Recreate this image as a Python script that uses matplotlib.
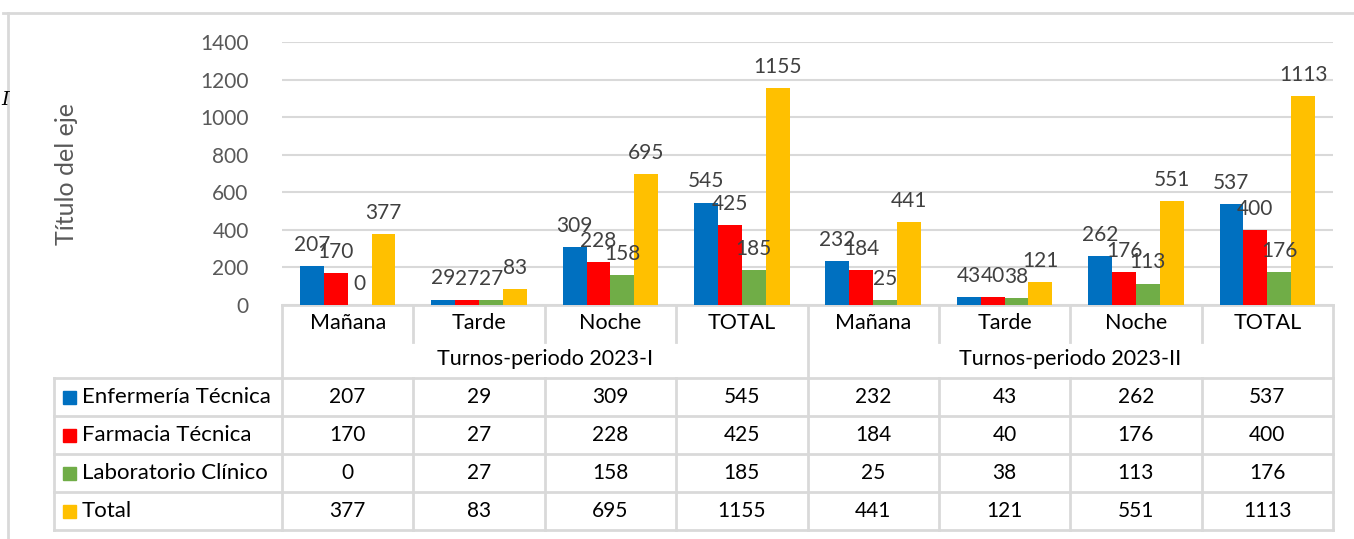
import matplotlib
matplotlib.use("Agg")
import matplotlib.pyplot as plt
from matplotlib.patches import Rectangle
import numpy as np

# ---- data ----
categories = ["Mañana", "Tarde", "Noche", "TOTAL", "Mañana", "Tarde", "Noche", "TOTAL"]
groups = ["Turnos-periodo 2023-I", "Turnos-periodo 2023-II"]
series_names = ["Enfermería Técnica", "Farmacia Técnica", "Laboratorio Clínico", "Total"]
enfermeria = [207, 29, 309, 545, 232, 43, 262, 537]
farmacia = [170, 27, 228, 425, 184, 40, 176, 400]
laboratorio = [0, 27, 158, 185, 25, 38, 113, 176]
total = [377, 83, 695, 1155, 441, 121, 551, 1113]
yticks = [0, 200, 400, 600, 800, 1000, 1200, 1400]
axis_title = "Título del eje"

series = [enfermeria, farmacia, laboratorio, total]
colors = ["#0070C0", "#FF0000", "#70AD47", "#FFC000"]

FONT = "Lato"
FS = 15
W, H = 1354, 539
fig = plt.figure(figsize=(W / 100, H / 100), dpi=100)

# pixel geometry
x0, x1 = 282, 1333
y_top, y_zero = 42, 305

ax = fig.add_axes([x0 / W, 1 - y_zero / H, (x1 - x0) / W, (y_zero - y_top) / H])
ax.set_xlim(0, len(categories))
ax.set_ylim(0, 1400)
ax.set_yticks(yticks)
ax.set_yticklabels([str(t) for t in yticks], fontfamily=FONT, fontsize=FS, color="#595959")
ax.tick_params(axis="y", length=0, pad=24)
ax.set_xticks([])
for s in ax.spines.values():
    s.set_visible(False)
ax.grid(axis="y", color="#D9D9D9", linewidth=1.5)
ax.set_axisbelow(True)

bw = 1 / 5.5
xc = np.arange(len(categories)) + 0.5
for i, (vals, col) in enumerate(zip(series, colors)):
    pos = xc + (i - 1.5) * bw
    ax.bar(pos, vals, width=bw, color=col, zorder=3)
    for p, v in zip(pos, vals):
        ax.annotate(str(v), (p, v), xytext=(0, 11), textcoords="offset points",
                    ha="center", va="baseline", fontfamily=FONT, fontsize=FS,
                    color="#404040", zorder=5, annotation_clip=False)

# overlay in pixel coordinates for table and frame
ov = fig.add_axes([0, 0, 1, 1], zorder=-1)
ov.set_xlim(0, W)
ov.set_ylim(H, 0)
ov.axis("off")
ov.patch.set_alpha(0)

lc = "#D9D9D9"
lw = 2
ncat = len(categories)
colw = (x1 - x0) / ncat
bounds = [x0 + k * colw for k in range(ncat + 1)]
leg_x = 54
row_y = [378, 416, 454, 492, 530]

# chart border
ov.plot([3, W], [13, 13], color=lc, lw=2)
ov.plot([8, 8], [13, H], color=lc, lw=2)

# x axis line
ov.plot([x0, x1], [y_zero, y_zero], color=lc, lw=lw)
# vertical lines
for k, b in enumerate(bounds):
    if k in (0, ncat // 2, ncat):
        ov.plot([b, b], [y_zero, row_y[-1]], color=lc, lw=lw)
    else:
        ov.plot([b, b], [y_zero, 342], color=lc, lw=lw)
        ov.plot([b, b], [row_y[0], row_y[-1]], color=lc, lw=lw)
for ry in row_y:
    ov.plot([leg_x, x1], [ry, ry], color=lc, lw=lw)
ov.plot([leg_x, leg_x], [row_y[0], row_y[-1]], color=lc, lw=lw)

# category labels
for k, c in enumerate(categories):
    ov.text((bounds[k] + bounds[k + 1]) / 2, 323, c, ha="center", va="center",
            fontfamily=FONT, fontsize=FS + 0.5, color="#000000")
half = ncat // 2
for g, name in enumerate(groups):
    ov.text((bounds[g * half] + bounds[(g + 1) * half]) / 2, 359, name, ha="center",
            va="center", fontfamily=FONT, fontsize=FS + 0.5, color="#000000")

# data table rows
for r, (name, vals, col) in enumerate(zip(series_names, series, colors)):
    cy = (row_y[r] + row_y[r + 1]) / 2
    ov.add_patch(Rectangle((63, cy - 6.5), 13, 13, color=col))
    ov.text(82, cy, name, ha="left", va="center", fontfamily=FONT, fontsize=FS + 1,
            color="#000000")
    for k, v in enumerate(vals):
        ov.text((bounds[k] + bounds[k + 1]) / 2, cy, str(v), ha="center", va="center",
                fontfamily=FONT, fontsize=FS, color="#000000")

# axis title
ov.text(66, 174, axis_title, rotation=90, ha="center", va="center",
        fontfamily=FONT, fontsize=18, color="#595959")
ov.text(5, 100, "I", ha="center", va="center", fontfamily="DejaVu Serif",
        style="italic", fontsize=14, color="#000000")

fig.savefig("out.png", dpi=100)
